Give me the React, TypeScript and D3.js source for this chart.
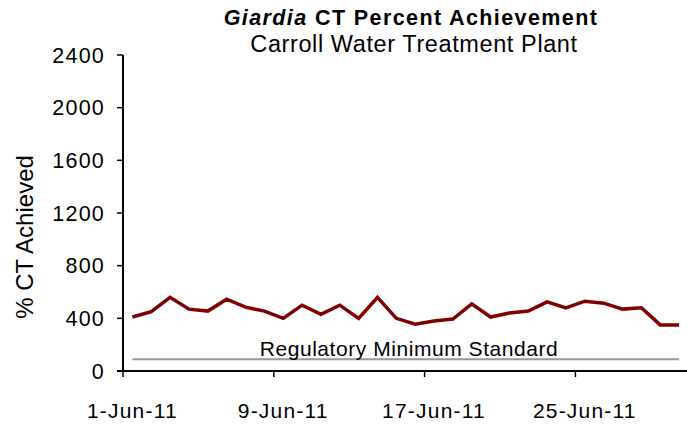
import React from "react";
import * as d3 from "d3";

const days: string[] = Array.from({ length: 30 }, (_, i) => `2011-06-${String(i + 1).padStart(2, "0")}`);
const ctValues: number[] = [
  410, 450, 560, 470, 455, 545, 485, 455, 400, 500,
  430, 500, 400, 560, 400, 355, 380, 395, 510, 410,
  440, 455, 525, 480, 530, 515, 470, 480, 350, 350,
];
const regulatoryMin: number = 90;
const yTicks: number[] = [0, 400, 800, 1200, 1600, 2000, 2400];
const xTickDates: string[] = ["2011-06-01", "2011-06-09", "2011-06-17", "2011-06-25"];

const W = 687;
const H = 424;
const FONT = "'Liberation Sans', Arial, sans-serif";

export default function App() {
  const parse = d3.utcParse("%Y-%m-%d");
  const fmt = d3.utcFormat("%-d-%b-%y");
  const x = d3
    .scaleUtc()
    .domain([parse("2011-06-01")!, parse("2011-07-01")!])
    .range([123, 688.5]);
  const y = d3.scaleLinear().domain([0, 2400]).range([371, 55]);
  const half = 12 * 3600 * 1000;
  const pts = days.map((d, i) => ({ t: new Date(parse(d)!.getTime() + half), v: ctValues[i] }));
  const line = d3
    .line<{ t: Date; v: number }>()
    .x((d) => x(d.t))
    .y((d) => y(d.v));
  const regLine = d3
    .line<{ t: Date; v: number }>()
    .x((d) => x(d.t))
    .y(() => y(regulatoryMin));

  return (
    <svg
      width={W}
      height={H}
      style={{ position: "absolute", left: 0, top: 0, background: "#fff" }}
      fontFamily={FONT}
    >
      <text x={411} y={25} textAnchor="middle" fontSize={21.5} fontWeight="bold" letterSpacing={1.4} fill="#000">
        <tspan fontStyle="italic">Giardia</tspan> CT Percent Achievement
      </text>
      <text x={414} y={52} textAnchor="middle" fontSize={23.5} letterSpacing={0.6} fill="#000">
        Carroll Water Treatment Plant
      </text>
      <text
        transform={`translate(33,237) rotate(-90)`}
        textAnchor="middle"
        fontSize={24}
        fill="#000"
      >
        % CT Achieved
      </text>

      {/* regulatory line */}
      <path d={regLine(pts) || ""} fill="none" stroke="#999" strokeWidth={2} />
      <text x={409} y={356} textAnchor="middle" fontSize={21} letterSpacing={0.55} fill="#000">
        Regulatory Minimum Standard
      </text>

      {/* y axis */}
      <line x1={123} x2={123} y1={y(2400)} y2={y(0)} stroke="#000" strokeWidth={2} />
      {yTicks.map((t) => (
        <g key={t}>
          <line x1={117} x2={123} y1={y(t)} y2={y(t)} stroke="#000" strokeWidth={1.5} />
          <text x={105} y={y(t)} dy="0.36em" textAnchor="end" fontSize={21.5} letterSpacing={1.2} fill="#000">
            {t}
          </text>
        </g>
      ))}

      {/* x axis */}
      <line x1={117} x2={W} y1={y(0)} y2={y(0)} stroke="#000" strokeWidth={2} />
      {xTickDates.map((d) => {
        const dt = parse(d)!;
        return (
          <g key={d}>
            <line x1={x(dt)} x2={x(dt)} y1={y(0)} y2={y(0) + 6} stroke="#000" strokeWidth={1.5} />
            <text
              x={x(new Date(dt.getTime() + half))}
              y={418}
              textAnchor="middle"
              fontSize={21}
              letterSpacing={1.2}
              fill="#000"
            >
              {fmt(dt)}
            </text>
          </g>
        );
      })}

      {/* data line */}
      <path d={line(pts) || ""} fill="none" stroke="#800000" strokeWidth={3.5} strokeLinejoin="miter" />
    </svg>
  );
}
